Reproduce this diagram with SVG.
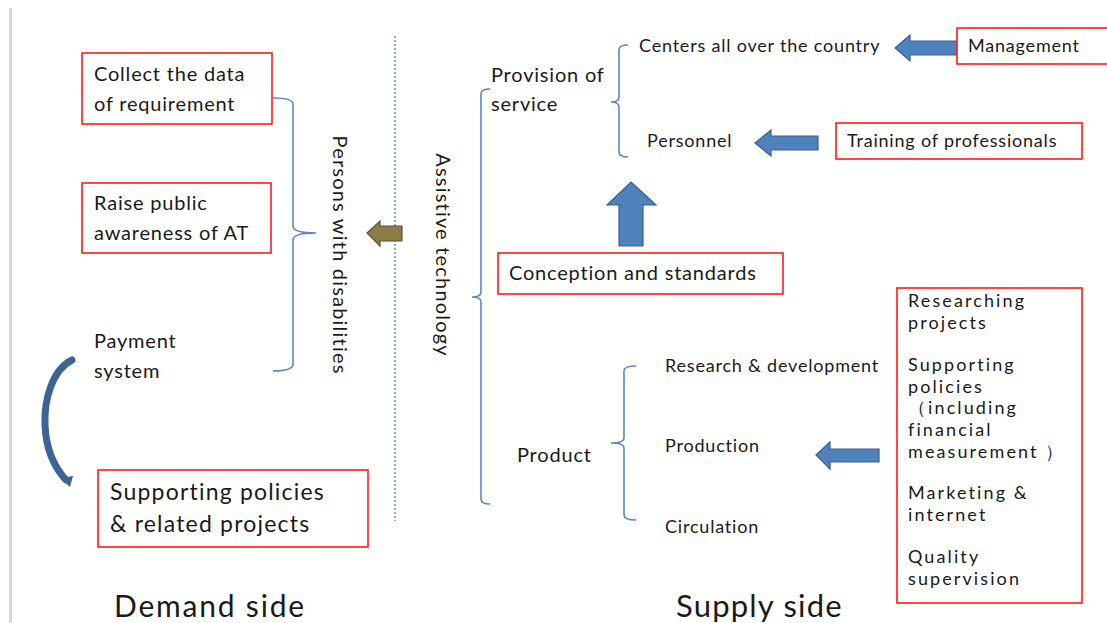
<svg xmlns="http://www.w3.org/2000/svg" width="1107" height="623" viewBox="0 0 1107 623">
<style>
text{font-family:Lato,"Open Sans","Liberation Sans",sans-serif;fill:#1a1a1a;}
.t{font-size:20px;letter-spacing:0.8px;}
.r{font-size:20px;letter-spacing:1.2px;}
.s{font-size:18px;letter-spacing:0.8px;}
.b{font-size:18px;letter-spacing:2.1px;}
.box{fill:#fff;stroke:#ff1a1a;stroke-width:1.6;}
.br{fill:none;stroke:#5b87c5;stroke-width:1.6;}
.ba{fill:#4f81bd;stroke:#3a6190;stroke-width:1.2;}
</style>
<rect width="1107" height="623" fill="#fff"/>
<rect x="9" y="8" width="3" height="615" fill="#d9d9d9"/>
<g id="connectors">
<path class="br" d="M273,98 Q293,98 293,104 L293,226 Q293,233 316,233 Q293,233 293,240 L293,364 Q293,371 273,371"/>
<line x1="395" y1="36" x2="395" y2="521" stroke="#6f93c8" stroke-width="1.5" stroke-dasharray="2,2"/>
<path d="M367,233 L380,221 L380,226 L402,226 L402,241 L380,241 L380,246 Z" fill="#8a7d45" stroke="#5e5430" stroke-width="1.2"/>
<path class="br" d="M490,89 Q481,89 481,94 L481,292 Q481,297 472,297 Q481,297 481,302 L481,499 Q481,504 490,504"/>
<path class="br" d="M628,45 Q619,45 619,50 L619,97 Q619,102 611,102 Q619,102 619,107 L619,152 Q619,157 628,157"/>
<path class="br" d="M636,366 Q624,366 624,371 L624,438 Q624,443 611,443 Q624,443 624,448 L624,515 Q624,520 636,520"/>
<path class="ba" d="M895,48 L910,35 L910,41 L957,41 L957,55 L910,55 L910,61 Z"/>
<path class="ba" d="M755,143 L771,130 L771,136 L818,136 L818,150 L771,150 L771,156 Z"/>
<path class="ba" d="M631,182 L656,205 L643,205 L643,246 L619,246 L619,205 L607,205 Z"/>
<path class="ba" d="M816,455 L830,442 L830,449 L879,449 L879,462 L830,462 L830,469 Z"/>
<path d="M72,360 C52,370 44,400 45,425 C46,450 55,468 66,480" fill="none" stroke="#3e6494" stroke-width="7" stroke-linecap="round"/>
<path d="M60,478 L73,476 L70,487 Z" fill="#3e6494"/>
</g>
<g id="collect">
<rect class="box" x="82" y="53" width="190" height="71"/>
<text class="t" x="94" y="81">Collect the data</text>
<text class="t" x="94" y="111">of requirement</text>
</g>
<g id="raise">
<rect class="box" x="82" y="183" width="189" height="70"/>
<text class="t" x="94" y="210">Raise public</text>
<text class="t" x="94" y="240">awareness of AT</text>
</g>
<g id="payment">
<text class="t" x="94" y="348">Payment</text>
<text class="t" x="94" y="378">system</text>
</g>
<g id="supporting">
<rect class="box" x="98" y="470" width="270" height="77"/>
<text x="110" y="500" style="font-size:23px;letter-spacing:1.2px">Supporting policies</text>
<text x="110" y="532" style="font-size:23px;letter-spacing:1.2px">&amp; related projects</text>
</g>
<g id="persons">
<text class="r" transform="translate(333,255) rotate(90)" text-anchor="middle">Persons with disabilities</text>
</g>
<g id="at">
<text class="r" transform="translate(436,255) rotate(90)" text-anchor="middle">Assistive technology</text>
</g>
<g id="provision">
<text class="t" x="491" y="82">Provision of</text>
<text class="t" x="491" y="111">service</text>
</g>
<g id="centers"><text class="s" x="639" y="52">Centers all over the country</text></g>
<g id="management">
<rect class="box" x="957" y="28" width="152" height="36"/>
<text class="s" x="968" y="52">Management</text>
</g>
<g id="personnel"><text class="s" x="647" y="147">Personnel</text></g>
<g id="training">
<rect class="box" x="836" y="123" width="246" height="36"/>
<text class="s" x="847" y="147">Training of professionals</text>
</g>
<g id="conception">
<rect class="box" x="498" y="253" width="285" height="41"/>
<text class="t" x="509" y="280">Conception and standards</text>
</g>
<g id="product"><text class="t" x="517" y="462">Product</text></g>
<g id="rd"><text class="s" x="665" y="372">Research &amp; development</text></g>
<g id="production"><text class="s" x="665" y="452">Production</text></g>
<g id="circulation"><text class="s" x="665" y="533">Circulation</text></g>
<g id="measures">
<rect class="box" x="897" y="288" width="185" height="315"/>
<text class="b" x="908" y="307">Researching</text>
<text class="b" x="908" y="329">projects</text>
<text class="b" x="908" y="371">Supporting</text>
<text class="b" x="908" y="393">policies</text>
<text class="b" x="908" y="414">（including</text>
<text class="b" x="908" y="436">financial</text>
<text class="b" x="908" y="458">measurement ）</text>
<text class="b" x="908" y="499">Marketing &amp;</text>
<text class="b" x="908" y="521">internet</text>
<text class="b" x="908" y="563">Quality</text>
<text class="b" x="908" y="585">supervision</text>
</g>
<g id="demand"><text x="114" y="617" style="font-size:30px;letter-spacing:1.8px">Demand side</text></g>
<g id="supply"><text x="676" y="617" style="font-size:31px;letter-spacing:1.2px">Supply side</text></g>
</svg>
